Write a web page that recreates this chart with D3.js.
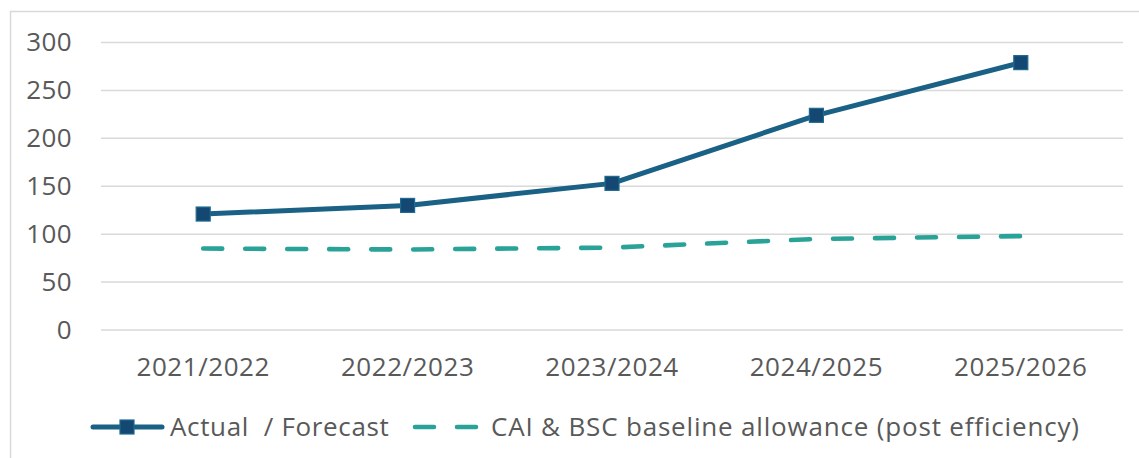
<!DOCTYPE html>
<html>
<head>
<meta charset="utf-8">
<script src="https://cdn.jsdelivr.net/npm/d3@7"></script>
<style>
  html, body { margin: 0; padding: 0; background: #fff; }
  svg { display: block; }
  text { font-family: "Open Sans", "Liberation Sans", sans-serif; fill: #595959; }
</style>
</head>
<body>
<svg id="chart" width="1139" height="458"></svg>
<script>
// Financial years on the category axis
const years = ["2021/2022", "2022/2023", "2023/2024", "2024/2025", "2025/2026"];
// Actual / forecast cost
const actualForecast = [121, 130, 153, 224, 279];
// CAI & BSC baseline allowance (post efficiency)
const baselineAllowance = [85, 84, 86, 95, 98];
// Value axis ticks
const yTicks = [0, 50, 100, 150, 200, 250, 300];

const seriesNames = ["Actual  / Forecast", "CAI & BSC baseline allowance (post efficiency)"];

const W = 1139, H = 458;
const plot = { left: 101, right: 1123, top: 42.5, bottom: 330 };
const navy = "#1A6185", markerFill = "#144872", teal = "#29A397";
const font = "'Open Sans', 'Liberation Sans', sans-serif";

const svg = d3.select("#chart");

// Chart-area border
svg.append("rect")
  .attr("x", 10.5).attr("y", 11.5)
  .attr("width", W).attr("height", H)
  .attr("fill", "none").attr("stroke", "#d9d9d9").attr("stroke-width", 1.5);

const x = d3.scaleBand().domain(years).range([plot.left, plot.right]);
const y = d3.scaleLinear().domain([0, 300]).range([plot.bottom, plot.top]);

// Horizontal gridlines
svg.append("g").selectAll("line").data(yTicks).join("line")
  .attr("x1", plot.left).attr("x2", plot.right)
  .attr("y1", d => y(d)).attr("y2", d => y(d))
  .attr("stroke", "#d9d9d9").attr("stroke-width", 1.5);

// Value axis labels
const yAxis = d3.axisLeft(y).tickValues(yTicks).tickSize(0).tickPadding(0);
const yg = svg.append("g").attr("transform", "translate(72,0)").call(yAxis);
yg.select(".domain").remove();
yg.selectAll("text")
  .style("font-size", "26px").attr("fill", "#595959")
  .style("font-family", font).style("letter-spacing", "0.4px");

// Category axis labels
const xAxis = d3.axisBottom(x).tickSize(0).tickPadding(0);
const xg = svg.append("g").attr("transform", `translate(0,${plot.bottom})`).call(xAxis);
xg.select(".domain").remove();
xg.selectAll("text")
  .attr("y", 46).attr("dy", 0)
  .style("font-size", "26px").attr("fill", "#595959")
  .style("font-family", font).style("letter-spacing", "0.55px");

const cx = d => x(d) + x.bandwidth() / 2;
const line = d3.line().x(d => cx(d.year)).y(d => y(d.value));

const actualData = years.map((yr, i) => ({ year: yr, value: actualForecast[i] }));
const baseData = years.map((yr, i) => ({ year: yr, value: baselineAllowance[i] }));

// Baseline allowance (dashed)
svg.append("path").datum(baseData)
  .attr("d", line).attr("fill", "none")
  .attr("stroke", teal).attr("stroke-width", 4.6)
  .attr("stroke-linecap", "round").attr("stroke-dasharray", "19 23");

// Actual / forecast (solid with square markers)
svg.append("path").datum(actualData)
  .attr("d", line).attr("fill", "none")
  .attr("stroke", navy).attr("stroke-width", 5)
  .attr("stroke-linejoin", "round");

const ms = 14;
svg.append("g").selectAll("rect").data(actualData).join("rect")
  .attr("x", d => cx(d.year) - ms / 2).attr("y", d => y(d.value) - ms / 2)
  .attr("width", ms).attr("height", ms)
  .attr("fill", markerFill).attr("stroke", "#1F6A90").attr("stroke-width", 1.2);

// Legend
const ly = 427;
const lg = svg.append("g");
lg.append("line").attr("x1", 93).attr("x2", 162).attr("y1", ly).attr("y2", ly)
  .attr("stroke", navy).attr("stroke-width", 5).attr("stroke-linecap", "round");
lg.append("rect").attr("x", 127 - ms / 2).attr("y", ly - ms / 2)
  .attr("width", ms).attr("height", ms)
  .attr("fill", markerFill).attr("stroke", "#1F6A90").attr("stroke-width", 1.2);
lg.append("text").attr("x", 170).attr("y", ly + 8.5)
  .style("font-size", "26px").style("white-space", "pre").style("letter-spacing", "0.65px")
  .text(seriesNames[0]);

lg.append("line").attr("x1", 415).attr("x2", 478).attr("y1", ly).attr("y2", ly)
  .attr("stroke", teal).attr("stroke-width", 4.6).attr("stroke-linecap", "round")
  .attr("stroke-dasharray", "19 23");
lg.append("text").attr("x", 491).attr("y", ly + 8.5)
  .style("font-size", "26px").style("letter-spacing", "0.82px")
  .text(seriesNames[1]);
</script>
</body>
</html>
